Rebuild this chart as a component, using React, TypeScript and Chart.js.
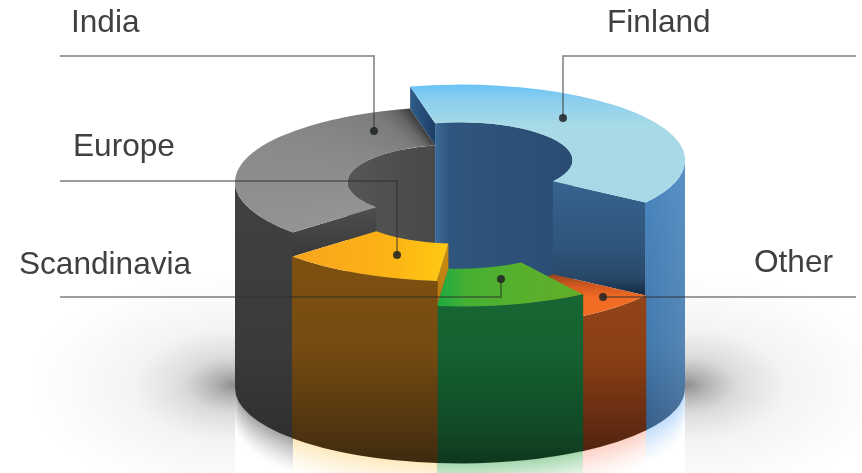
import React, { useEffect, useRef } from "react";
import { Chart, registerables } from "chart.js";

Chart.register(...registerables);

// Share of each region, clockwise from the back of the ring.
const categories = ["Finland", "Other", "Scandinavia", "Europe", "India"];
const shares = [38.1, 6.3, 10.8, 11.7, 33.1];
// Height of each slice's column above the floor, in pixels.
const columnHeights = [228, 135, 157, 182, 206];

const TILT = 0.335;
const FLOOR_Y = 388;
const PAINT_ORDER = [4, 0, 1, 2, 3];
const FONT = '31.6px "Liberation Sans", Arial, sans-serif';

type Stops = [number, string][];
const skins: {
  wall: Stops;
  wallSheen?: number;
  inner?: Stops;
  cut: Stops;
  glow: [number, number, number, number];
}[] = [
  {
    wall: [[0, "#4a86c0"], [0.6, "#447aae"], [0.88, "#365f8a"], [1, "#2a4c72"]],
    wallSheen: 0.09,
    inner: [[0, "#3c6b98"], [0.1, "#2f567e"], [1, "#2a4c72"]],
    cut: [[0, "#36638f"], [0.55, "#2f567c"], [0.85, "#274868"], [1, "#16293f"]],
    glow: [134, 188, 245, 0.5],
  },
  {
    wall: [[0, "#98471a"], [0.5, "#8a3f15"], [0.85, "#5e2911"], [1, "#47200f"]],
    cut: [[0, "#a04a20"], [1, "#a04a20"]],
    glow: [250, 150, 125, 0.42],
  },
  {
    wall: [[0, "#186a35"], [0.5, "#166232"], [0.85, "#114a26"], [1, "#0f371d"]],
    cut: [[0, "#186a35"], [1, "#186a35"]],
    glow: [95, 185, 110, 0.55],
  },
  {
    wall: [[0, "#85540f"], [0.55, "#754b11"], [0.85, "#533610"], [1, "#3e2a10"]],
    cut: [[0, "#d08e10"], [1, "#b27710"]],
    glow: [250, 200, 90, 0.38],
  },
  {
    wall: [[0, "#414141"], [0.6, "#3a3a3a"], [1, "#2c2c2e"]],
    inner: [[0, "#565656"], [1, "#484848"]],
    cut: [[0, "#4f4f4f"], [1, "#383838"]],
    glow: [110, 110, 110, 0.6],
  },
];

// Leader lines run from the edge rule to a dot on the slice.
const leaders = [
  { x0: 856, y0: 56, x1: 563, y1: 118, tx: 607, ty: 32 },
  { x0: 856, y0: 297, x1: 603, y1: 297, tx: 754, ty: 272 },
  { x0: 60, y0: 297, x1: 501, y1: 279, tx: 19, ty: 274 },
  { x0: 60, y0: 181, x1: 397, y1: 255, tx: 73, ty: 156 },
  { x0: 60, y0: 56, x1: 374, y1: 131, tx: 71, ty: 32 },
];

function fillStops(g: CanvasGradient, stops: Stops) {
  stops.forEach(([t, c]) => g.addColorStop(t, c));
  return g;
}

function overlap(a: number, b: number, lo: number, hi: number): [number, number] | null {
  const s = Math.max(a, lo);
  const e = Math.min(b, hi);
  return e > s ? [s, e] : null;
}

const ringPlugin = {
  id: "extrudedRing",
  beforeDatasetsDraw(chart: any) {
    const ctx: CanvasRenderingContext2D = chart.ctx;
    const arcs = chart.getDatasetMeta(0).data.map((el: any) =>
      el.getProps(["x", "startAngle", "endAngle", "innerRadius", "outerRadius"], true)
    );
    const cx: number = arcs[0].x;
    const R: number = arcs[0].outerRadius;
    const r: number = arcs[0].innerRadius;
    const n = arcs.length;
    const level = (i: number) => FLOOR_Y - columnHeights[i];
    const px = (a: number, rad: number, y: number): [number, number] => [
      cx + rad * Math.cos(a),
      y + rad * TILT * Math.sin(a),
    ];

    const wallPath = (a: number, b: number, rad: number, yT: number, yB: number) => {
      ctx.beginPath();
      ctx.ellipse(cx, yT, rad, rad * TILT, 0, a, b, false);
      ctx.ellipse(cx, yB, rad, rad * TILT, 0, b, a, true);
      ctx.closePath();
    };

    // Soft contact shadow either side of the column.
    [-1, 1].forEach((side) => {
      const ex = cx + side * R;
      ctx.save();
      ctx.beginPath();
      ctx.rect(side < 0 ? 0 : ex, 0, side < 0 ? ex : chart.width - ex, chart.height);
      ctx.clip();
      ctx.translate(ex, FLOOR_Y - 3);
      ctx.scale(1, 0.55);
      const g = ctx.createRadialGradient(0, 0, 0, 0, 0, 205);
      g.addColorStop(0, "rgba(60,60,60,0.58)");
      g.addColorStop(0.1, "rgba(70,70,70,0.42)");
      g.addColorStop(0.25, "rgba(90,90,90,0.22)");
      g.addColorStop(0.5, "rgba(110,110,110,0.08)");
      g.addColorStop(1, "rgba(130,130,130,0)");
      ctx.fillStyle = g;
      ctx.fillRect(-240, -300, 480, 600);
      ctx.restore();
    });

    // Coloured glow on the floor below each slice, nested from the faintest band inward.
    arcs.forEach((arc: any, i: number) => {
      const front = overlap(arc.startAngle, arc.endAngle, 0, Math.PI);
      if (!front) return;
      const [cr, cg, cb, ca] = skins[i].glow;
      const steps = 36;
      const mix = (c: number, w: number) => Math.round(255 + (c - 255) * w);
      for (let s = steps; s >= 0; s--) {
        const w = ca * Math.pow(1 - s / steps, 1.4);
        ctx.fillStyle = `rgb(${mix(cr, w)},${mix(cg, w)},${mix(cb, w)})`;
        wallPath(front[0], front[1], R, FLOOR_Y, FLOOR_Y + s + 1);
        ctx.fill();
      }
    });

    PAINT_ORDER.forEach((i) => {
      const arc = arcs[i];
      const skin = skins[i];
      const a: number = arc.startAngle;
      const b: number = arc.endAngle;
      const y = level(i);
      const ry = R * TILT;

      // Far side of the hole.
      const hole =
        overlap(a, b, -Math.PI, 0) || overlap(a, b, Math.PI, 2 * Math.PI);
      if (hole && skin.inner) {
        const [x0] = px(hole[1], r, y);
        const [x1] = px(hole[0], r, y);
        const left = Math.min(x0, x1);
        const right = Math.max(x0, x1);
        ctx.fillStyle = fillStops(ctx.createLinearGradient(left, 0, right, 0), skin.inner);
        wallPath(hole[0], hole[1], r, y, FLOOR_Y);
        ctx.fill();
      }

      // Radial faces, exposed down to the lower neighbour.
      const face = (angle: number, other: number) => {
        const yB = level(other);
        if (yB <= y) return;
        const p1 = px(angle, r, y);
        const p2 = px(angle, R, y);
        const p3 = px(angle, R, yB);
        const p4 = px(angle, r, yB);
        if (other === 4) {
          const g = ctx.createLinearGradient(p2[0], 0, p1[0], 0);
          g.addColorStop(0, "#2f5d8b");
          g.addColorStop(1, "#1e3e65");
          ctx.fillStyle = g;
        } else {
          const top = Math.min(p1[1], p2[1]);
          const bottom = Math.max(p3[1], p4[1]);
          ctx.fillStyle = fillStops(ctx.createLinearGradient(0, top, 0, bottom), skin.cut);
        }
        ctx.beginPath();
        ctx.moveTo(...p1);
        ctx.lineTo(...p2);
        ctx.lineTo(...p3);
        ctx.lineTo(...p4);
        ctx.closePath();
        ctx.fill();
      };
      if (Math.cos(a) < 0) face(a, (i - 1 + n) % n);
      if (Math.cos(b) > 0) face(b, (i + 1) % n);

      // Outer wall, overlapped slightly so neighbours leave no seam.
      const front = overlap(a, b, 0, Math.PI);
      if (front) {
        const lap = 0.004;
        ctx.fillStyle = fillStops(
          ctx.createLinearGradient(0, y, 0, FLOOR_Y + ry),
          skin.wall
        );
        wallPath(front[0] - lap, front[1] + lap, R, y, FLOOR_Y);
        ctx.fill();
        if (skin.wallSheen) {
          const [x0] = px(front[0], R, y);
          const [x1] = px(front[1], R, y);
          const g = ctx.createLinearGradient(x1, 0, x0, 0);
          g.addColorStop(0, "rgba(255,255,255,0)");
          g.addColorStop(1, `rgba(255,255,255,${skin.wallSheen})`);
          ctx.fillStyle = g;
          ctx.fill();
        }
      }

      // Top face.
      ctx.beginPath();
      ctx.ellipse(cx, y, R, ry, 0, a, b, false);
      ctx.ellipse(cx, y, r, r * TILT, 0, b, a, true);
      ctx.closePath();
      let fill: CanvasGradient;
      if (i === 0) {
        fill = ctx.createLinearGradient(0, y - ry, 0, y - ry + 40);
        fill.addColorStop(0, "#69c3f5");
        fill.addColorStop(0.4, "#8ccfee");
        fill.addColorStop(1, "#a7d9e7");
      } else if (i === 1) {
        fill = ctx.createLinearGradient(0, y + r * TILT * 0.55, 0, y + ry * 0.6);
        fill.addColorStop(0, "#94441c");
        fill.addColorStop(0.55, "#d85a20");
        fill.addColorStop(1, "#f26c24");
      } else if (i === 2) {
        fill = ctx.createLinearGradient(cx - 22, 0, cx + 122, 0);
        fill.addColorStop(0, "#1faa40");
        fill.addColorStop(0.2, "#46b032");
        fill.addColorStop(0.6, "#58b02c");
        fill.addColorStop(1, "#62ad29");
      } else if (i === 3) {
        fill = ctx.createLinearGradient(cx - R * 0.74, 0, cx, 0);
        fill.addColorStop(0, "#f8a31d");
        fill.addColorStop(0.6, "#fdb515");
        fill.addColorStop(1, "#ffcd13");
      } else {
        const screen = (t: number) => Math.atan2(TILT * Math.sin(t), Math.cos(t));
        let s0 = screen(a);
        let s1 = screen(b);
        if (s1 < s0) s1 += 2 * Math.PI;
        fill = ctx.createConicGradient(s0, cx, y);
        const span = (s1 - s0) / (2 * Math.PI);
        ([
          [0, "#949494"],
          [0.45, "#888888"],
          [0.75, "#7c7c7c"],
          [0.88, "#686868"],
          [0.96, "#4c4c4c"],
          [1, "#3c3c3c"],
        ] as Stops).forEach(([t, c]) => fill.addColorStop(t * span, c));
        fill.addColorStop(Math.min(span + 0.001, 1), "#949494");
        fill.addColorStop(1, "#949494");
      }
      ctx.fillStyle = fill;
      ctx.fill();
    });

    return false;
  },
  afterDraw(chart: any) {
    const ctx: CanvasRenderingContext2D = chart.ctx;
    ctx.save();
    leaders.forEach((l, i) => {
      ctx.strokeStyle = "rgba(45,45,45,0.62)";
      ctx.lineWidth = 1.5;
      ctx.beginPath();
      ctx.moveTo(l.x0, l.y0);
      ctx.lineTo(l.x1, l.y0);
      ctx.lineTo(l.x1, l.y1);
      ctx.stroke();
      ctx.fillStyle = "rgba(30,35,35,0.85)";
      ctx.beginPath();
      ctx.arc(l.x1, l.y1, 4, 0, 2 * Math.PI);
      ctx.fill();
      ctx.fillStyle = "#404040";
      ctx.font = FONT;
      ctx.textAlign = "left";
      ctx.textBaseline = "alphabetic";
      ctx.fillText(categories[i], l.tx, l.ty);
    });
    ctx.restore();
  },
};

export default function App() {
  const ref = useRef<HTMLCanvasElement>(null);

  useEffect(() => {
    const chart = new Chart(ref.current!, {
      type: "doughnut",
      data: {
        labels: categories,
        datasets: [{ data: shares, borderWidth: 0 }],
      },
      options: {
        responsive: false,
        animation: false,
        rotation: -12.8,
        cutout: "50%",
        layout: { padding: { left: 58, top: 11.5, bottom: 11.5, right: 0 } },
        plugins: { legend: { display: false }, tooltip: { enabled: false } },
      },
      plugins: [ringPlugin],
    } as any);
    return () => chart.destroy();
  }, []);

  return (
    <div style={{ position: "fixed", left: 0, top: 0, background: "#fff" }}>
      <canvas ref={ref} width={862} height={473} style={{ display: "block" }} />
    </div>
  );
}
